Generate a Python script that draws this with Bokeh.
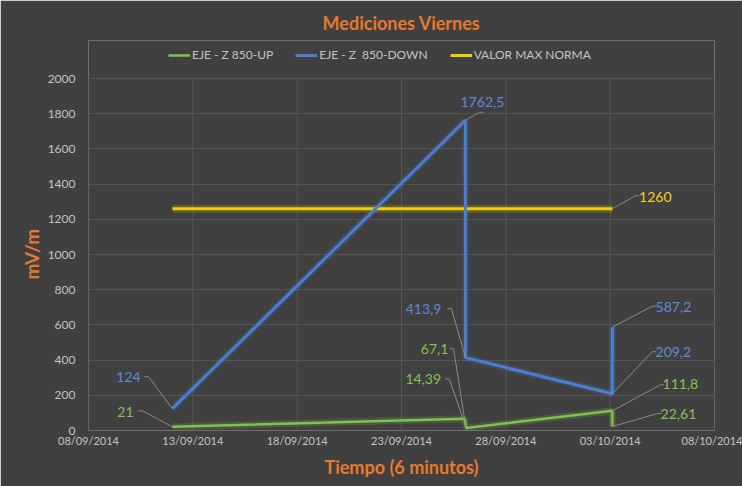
from datetime import datetime
from bokeh.plotting import figure
from bokeh.models import (ColumnDataSource, DatetimeTickFormatter, FixedTicker,
                          Legend, LegendItem, Range1d, Title)
from bokeh.embed import file_html
from bokeh.resources import INLINE
from bokeh.core.properties import value

# ---------------- data ----------------
up_times = ["2014-09-12 00:30", "2014-09-26 00:30", "2014-09-26 02:30",
            "2014-10-03 02:30", "2014-10-03 02:36"]
up_vals = [21, 67.1, 14.39, 111.8, 22.61]
up_labels = ["21", "67,1", "14,39", "111,8", "22,61"]

down_times = ["2014-09-12 00:30", "2014-09-26 01:30", "2014-09-26 01:36",
              "2014-10-03 02:30", "2014-10-03 02:36"]
down_vals = [124, 1762.5, 413.9, 209.2, 587.2]
down_labels = ["124", "1762,5", "413,9", "209,2", "587,2"]

norma_times = ["2014-09-12 00:30", "2014-10-03 02:30"]
norma_vals = [1260, 1260]
norma_label = "1260"

tick_dates = ["08/09/2014", "13/09/2014", "18/09/2014", "23/09/2014",
              "28/09/2014", "03/10/2014", "08/10/2014"]
y_ticks = [0, 200, 400, 600, 800, 1000, 1200, 1400, 1600, 1800, 2000]

series_names = ["EJE - Z 850-UP", "EJE - Z  850-DOWN", "VALOR MAX NORMA"]

# ---------------- style / layout ----------------
BG = "#404040"
GRID = "#555555"
TXT = "#c4c4c4"
ORANGE = "#E8782C"
GREEN = "#7CC44E"
BLUE = "#4A7FD0"
YELLOW = "#F0D000"
GREEN_T = "#86C152"
BLUE_T = "#5B8CD6"
YELLOW_T = "#F2D21E"
FONT = "Lato"

LEFT, RIGHT, TOP, BOTTOM = 88, 28, 40, 56
PLOT_TOP = 78                     # pixel row of the value 2000
FW = 742 - LEFT - RIGHT
FH = 486 - TOP - BOTTOM


def ms(s):
    return datetime.strptime(s, "%Y-%m-%d %H:%M").timestamp() * 1000.0


def dms(s):
    return datetime.strptime(s, "%d/%m/%Y").timestamp() * 1000.0


tick_ms = [dms(d) for d in tick_dates]
x0, x1 = tick_ms[0], tick_ms[-1]
y_max = y_ticks[-1]
MS_PX = (x1 - x0) / FW
V_PX = y_max / (486 - BOTTOM - PLOT_TOP)
y_top = FH * V_PX                 # room above 2000 for the legend

p = figure(width=742, height=486, output_backend="svg", toolbar_location=None,
           x_axis_type="datetime", x_range=Range1d(x0, x1), y_range=Range1d(0, y_top),
           min_border_left=LEFT, min_border_right=RIGHT,
           min_border_top=TOP, min_border_bottom=BOTTOM)
p.background_fill_color = BG
p.border_fill_color = BG
p.outline_line_color = None

p.title.text = "Mediciones Viernes"
p.title.align = "center"
p.title.text_color = ORANGE
p.title.text_font = FONT
p.title.text_font_size = "18px"
p.title.text_font_style = "bold"
p.title.standoff = 14

# axes
p.xaxis.ticker = FixedTicker(ticks=tick_ms)
p.xaxis.formatter = DatetimeTickFormatter(days="%d/%m/%Y", months="%d/%m/%Y")
p.yaxis.ticker = FixedTicker(ticks=y_ticks)
for ax in (p.xaxis, p.yaxis):
    ax.axis_line_color = None
    ax.major_tick_line_color = None
    ax.minor_tick_line_color = None
    ax.major_tick_out = 0
    ax.major_tick_in = 0
    ax.minor_tick_out = 0
    ax.minor_tick_in = 0
    ax.major_label_text_color = TXT
    ax.major_label_text_font = FONT
    ax.major_label_text_font_size = "11px"
p.yaxis.major_label_text_font_size = "12px"
p.xaxis.axis_label = "Tiempo (6 minutos)"
p.xaxis.axis_label_text_color = ORANGE
p.xaxis.axis_label_text_font = FONT
p.xaxis.axis_label_text_font_style = "bold"
p.xaxis.axis_label_text_font_size = "18px"
p.xaxis.major_label_standoff = 3
p.yaxis.major_label_standoff = 13
p.xaxis.axis_label_standoff = 6

ytitle = Title(text="mV/m", align="left", offset=151, text_color=ORANGE,
               text_font=FONT, text_font_style="bold", text_font_size="19px",
               standoff=4)
p.add_layout(ytitle, "left")

p.xgrid.grid_line_color = None
p.ygrid.grid_line_color = GRID
p.segment(x0=tick_ms, y0=[0] * len(tick_ms), x1=tick_ms, y1=[y_max] * len(tick_ms),
          line_color=GRID, line_width=1)

# series
up_x = [ms(t) for t in up_times]
down_x = [ms(t) for t in down_times]
norma_x = [ms(t) for t in norma_times]

src_up = ColumnDataSource(dict(x=up_x, y=up_vals))
src_down = ColumnDataSource(dict(x=down_x, y=down_vals))
src_norma = ColumnDataSource(dict(x=norma_x, y=norma_vals))

# glow
p.line("x", "y", source=src_norma, line_color=YELLOW, line_width=8, line_alpha=0.18)
p.line("x", "y", source=src_down, line_color=BLUE, line_width=7, line_alpha=0.18)
p.line("x", "y", source=src_up, line_color=GREEN, line_width=7, line_alpha=0.18)

r_norma = p.line("x", "y", source=src_norma, line_color=YELLOW, line_width=3)
r_down = p.line("x", "y", source=src_down, line_color=BLUE, line_width=3)
r_up = p.line("x", "y", source=src_up, line_color=GREEN, line_width=2.5)

# data labels: (text offset px, leader knee offset px) relative to point (x right, y up)
up_off = [((-47, 15), (-30, 16)), ((-30, 70), (-11, 70)), ((-43, 49), (-17, 49)),
          ((68, 27), (48, 26)), ((66, 13), (45, 13))]
down_off = [((-44, 32), (-24, 32)), ((17, 18), (14, 8)), ((-42, 49), (-14, 49)),
            ((61, 42), (40, 42)), ((61, 20), (40, 21))]
norma_off = ((43, 12), (23, 13))


def add_labels(xs, ys, labels, offs, color):
    tx, ty, lx, ly = [], [], [], []
    for x, y, (to, ko) in zip(xs, ys, offs):
        tx.append(x + to[0] * MS_PX)
        ty.append(y + to[1] * V_PX)
        kx = x + ko[0] * MS_PX
        ky = y + ko[1] * V_PX
        ex = kx + (-4 if ko[0] < 0 else 4) * MS_PX
        lx.append([x, kx, ex])
        ly.append([y, ky, ky])
    p.multi_line(lx, ly, line_color="#8a8a8a", line_width=1)
    p.text(tx, ty, text=labels, text_color=color, text_font=value(FONT),
           text_font_size="14px", text_align="center", text_baseline="middle")


add_labels(up_x, up_vals, up_labels, up_off, GREEN_T)
add_labels(down_x, down_vals, down_labels, down_off, BLUE_T)
add_labels([norma_x[-1]], [norma_vals[-1]], [norma_label], [norma_off], YELLOW_T)

legend = Legend(items=[LegendItem(label=series_names[0], renderers=[r_up]),
                       LegendItem(label=series_names[1], renderers=[r_down]),
                       LegendItem(label=series_names[2], renderers=[r_norma])],
                orientation="horizontal", location=(80, FH - 22))
legend.background_fill_alpha = 0
legend.border_line_color = None
legend.label_text_color = TXT
legend.label_text_font = FONT
legend.label_text_font_size = "12px"
legend.glyph_width = 22
legend.glyph_height = 10
legend.spacing = 22
legend.label_standoff = 2
legend.padding = 2
legend.margin = 0
p.add_layout(legend)

open("out.html", "w").write(file_html(p, INLINE))
